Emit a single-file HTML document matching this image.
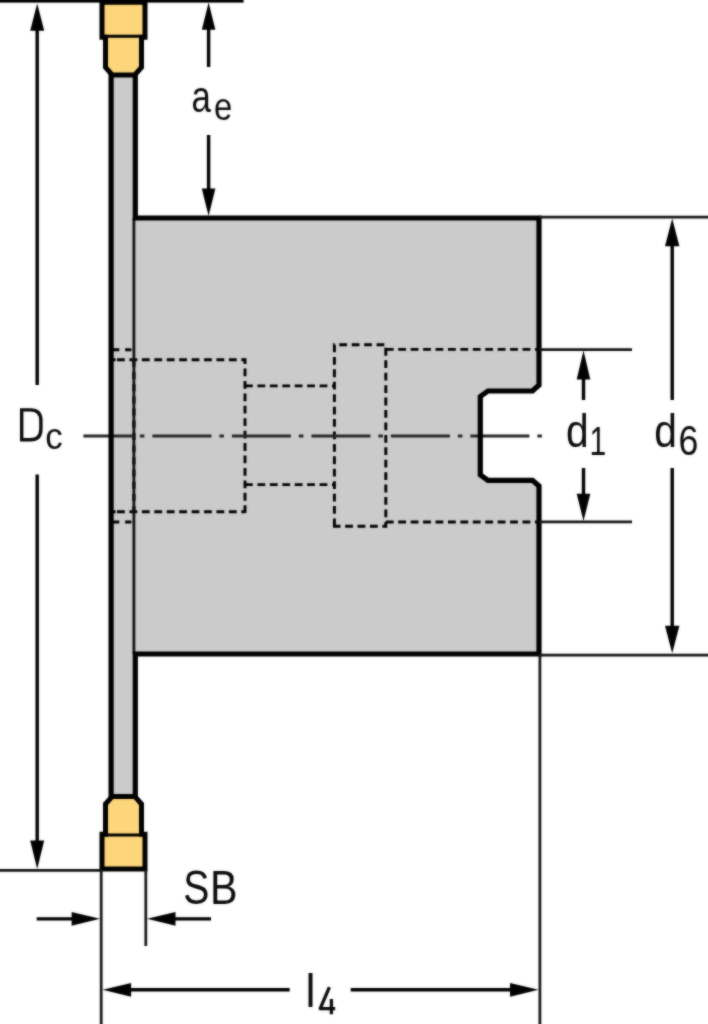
<!DOCTYPE html>
<html>
<head>
<meta charset="utf-8">
<title>Slitting cutter dimension drawing</title>
<style>
html,body{margin:0;padding:0;background:#fff;}
body{width:708px;height:1024px;overflow:hidden;font-family:"Liberation Sans",sans-serif;}
svg{display:block;}
text{font-family:"Liberation Sans",sans-serif;fill:#0a0a0a;}
</style>
</head>
<body>
<svg width="708" height="1024" viewBox="0 0 708 1024">
<defs><filter id="soft" filterUnits="userSpaceOnUse" x="-20" y="-20" width="748" height="1064" color-interpolation-filters="sRGB"><feGaussianBlur in="SourceGraphic" stdDeviation="0.8" result="b"/><feComposite in="b" in2="SourceGraphic" operator="arithmetic" k1="0" k2="0.55" k3="0.45" k4="0"/></filter></defs>
<g filter="url(#soft)">
<rect x="-20" y="-20" width="748" height="1064" fill="#ffffff"/>

<!-- body fill + blade fill -->
<g fill="#cbcbcb" stroke="none">
  <rect x="111" y="74" width="24.5" height="724"/>
  <path d="M134,218 L539,218 L539,385 L532.5,391 L488,391 L480.3,396.5 L480.3,475 L488,480.3 L532.5,480.3 L539,486 L539,654 L134,654 Z"/>
</g>

<!-- hidden (dashed) lines -->
<g fill="none" stroke="#000" stroke-width="2.9" stroke-dasharray="7.8 4.63">
  <path d="M113,349.8 L134,349.8" stroke-dasharray="6.3 5.8"/>
  <path d="M113,522 L134,522" stroke-dasharray="6.3 5.8"/>
  <path d="M112.6,359.8 L245,359.8" stroke-dashoffset="8"/>
  <path d="M112.6,511.8 L245,511.8" stroke-dashoffset="8"/>
  <path d="M245,358.3 L245,513.3" stroke-dashoffset="2.2"/>
  <path d="M111,359.8 L115.6,359.8 M111,511.8 L115.6,511.8" stroke-dasharray="none"/>
  <path d="M245,385.9 L334.4,385.9"/>
  <path d="M245,484.6 L334.4,484.6"/>
  <path d="M334.4,526.3 L334.4,344.7 L385.8,344.7 L385.8,526.3 Z"/>
  <path d="M385.8,349.4 L538,349.4"/>
  <path d="M385.8,522 L538,522"/>
  <path d="M133.9,359.8 L133.9,511.8" stroke-width="3.3" stroke-dasharray="7 5.2"/>
</g>

<!-- centre line -->
<path d="M83.4,436 L541.9,436" fill="none" stroke="#262626" stroke-width="3.2" stroke-dasharray="59 8 4.5 8" stroke-dashoffset="10.5"/>

<!-- thin blade/body separating line -->
<path d="M133.9,218 L133.9,654" fill="none" stroke="#111" stroke-width="2.8"/>

<!-- thick outlines -->
<g fill="none" stroke="#000" stroke-width="5.2" stroke-linejoin="miter">
  <path d="M111.1,74 L111.1,798"/>
  <path d="M135.3,74 L135.3,218 L539,218 L539,385 L532.5,391 L488,391 L480.3,396.5 L480.3,475 L488,480.3 L532.5,480.3 L539,486 L539,654 L135.3,654 L135.3,798"/>
</g>

<!-- inserts -->
<g id="ins">
  <path d="M102,2.3 L145,2.3 L145,37.2 L141.5,37.2 L141.5,67.4 L134.8,75 L112.2,75 L105.5,67.4 L105.5,37.2 L102,37.2 Z" fill="#fdd67b" stroke="#000" stroke-width="5"/>
  <path d="M102,36.3 L145,36.3" stroke="#000" stroke-width="3" fill="none"/>
</g>
<g transform="translate(0,871.4) scale(1,-1)">
  <path d="M102,2.3 L145,2.3 L145,37.2 L141.5,37.2 L141.5,67.4 L134.8,75 L112.2,75 L105.5,67.4 L105.5,37.2 L102,37.2 Z" fill="#fdd67b" stroke="#000" stroke-width="5"/>
  <path d="M102,36.3 L145,36.3" stroke="#000" stroke-width="3" fill="none"/>
</g>

<!-- top & bottom reference lines for Dc -->
<rect x="-10" y="-10" width="253.6" height="12.6" fill="#000"/>
<path d="M-10,870.4 L101,870.4" stroke="#111" stroke-width="2.9" fill="none"/>

<!-- extension lines -->
<g fill="none" stroke="#151515" stroke-width="2.75">
  <path d="M539,217.1 L720,217.1"/>
  <path d="M539,655 L720,655"/>
  <path d="M539,349.5 L632,349.5"/>
  <path d="M539,521.9 L632,521.9"/>
  <path d="M539.9,655 L539.9,1036"/>
  <path d="M101.2,870 L101.2,1036"/>
  <path d="M145.8,870 L145.8,946"/>
</g>

<!-- dimension lines -->
<g fill="none" stroke="#000" stroke-width="3.4">
  <path d="M37.2,20 L37.2,385"/>
  <path d="M37.2,474.4 L37.2,850"/>
  <path d="M208.6,20 L208.6,67"/>
  <path d="M208.6,135 L208.6,200"/>
  <path d="M583.5,370 L583.5,400"/>
  <path d="M583.5,468 L583.5,500"/>
  <path d="M672.2,236 L672.2,400"/>
  <path d="M672.2,468 L672.2,636"/>
  <path d="M36.7,918.8 L80,918.8" stroke-width="3.2"/>
  <path d="M166,918.8 L211,918.8" stroke-width="3.2"/>
  <path d="M122,989.8 L289.7,989.8"/>
  <path d="M350.7,989.8 L520,989.8"/>
</g>

<!-- arrowheads -->
<g fill="#000" stroke="none">
  <path d="M37.2,3.5 L44.2,30.7 L30.2,30.7 Z"/>
  <path d="M37.2,869 L44.2,840.6 L30.2,840.6 Z"/>
  <path d="M208.6,2.5 L215.4,29.7 L201.8,29.7 Z"/>
  <path d="M208.6,216 L215.4,188.5 L201.8,188.5 Z"/>
  <path d="M583.5,350.5 L590.3,379.5 L576.7,379.5 Z"/>
  <path d="M583.5,521 L590.3,493.7 L576.7,493.7 Z"/>
  <path d="M672.2,218.5 L679.4,246.3 L665,246.3 Z"/>
  <path d="M672.2,653.3 L679.4,625.8 L665,625.8 Z"/>
  <path d="M100,918.8 L71.6,911.9 L71.6,925.7 Z"/>
  <path d="M147,918.8 L175.5,911.9 L175.5,925.7 Z"/>
  <path d="M102.6,989.8 L131.1,982.9 L131.1,996.7 Z"/>
  <path d="M538.5,989.8 L510,982.9 L510,996.7 Z"/>
</g>

<!-- labels -->
<g>
  <path d="M21.7,409.9 L30.3,409.9 C37.6,409.9 40.9,413.4 40.9,420.6 L40.9,429 C40.9,436.2 37.6,439.8 30.3,439.8 L21.7,439.8 Z" fill="none" stroke="#0a0a0a" stroke-width="3.4" stroke-linejoin="miter"/>
  <text transform="translate(45.2,449.1) scale(0.923,1)" font-size="37.8">c</text>
  <text transform="translate(191.5,112.1) scale(0.783,1)" font-size="44.5">a</text>
  <text transform="translate(213.9,120.0) scale(0.85,1)" font-size="38.6">e</text>
  <text transform="translate(566.0,447.0) scale(0.869,1)" font-size="46.9">d</text>
  <text transform="translate(589.5,455.4) scale(0.732,1)" font-size="41.1">1</text>
  <text transform="translate(654.2,447.0) scale(0.869,1)" font-size="46.9">d</text>
  <text transform="translate(678.5,455.2) scale(0.854,1)" font-size="41.9">6</text>
  <text transform="translate(183.2,904.2) scale(0.808,1)" font-size="48.4">S</text>
  <text transform="translate(210.1,903.8) scale(0.858,1)" font-size="48.1">B</text>
  <text transform="translate(305.6,1006.8) scale(0.970,1)" font-size="46.5">l</text>
  <path d="M329.4,987.2 L320.2,1008.6 L335.2,1008.6 M331.4,999 L331.4,1014.2" fill="none" stroke="#0a0a0a" stroke-width="3.3" stroke-linejoin="round"/>
</g>
</g>
</svg>
</body>
</html>
